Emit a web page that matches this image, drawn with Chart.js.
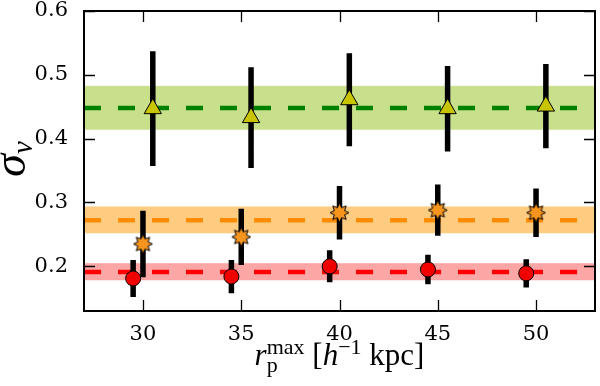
<!DOCTYPE html>
<html lang="en">
<head>
<meta charset="UTF-8">
<title>sigma_v vs r_p max</title>
<style>
  html, body { margin: 0; padding: 0; background: #fff; }
</style>
</head>
<body>
<canvas id="myChart" width="600" height="386"></canvas>

<script src="https://cdn.jsdelivr.net/npm/chart.js"></script>
<script>
// axis ranges and ticks
const xRange = [27, 53];
const yRange = [0.13, 0.6];
const xTicks = [30, 35, 40, 45, 50];
const yTicks = [0.2, 0.3, 0.4, 0.5, 0.6];

// green triangles (top group)
const triX = [30.5, 35.5, 40.5, 45.5, 50.5];
const triY = [0.447, 0.433, 0.461, 0.447, 0.451];
const triErr = [0.090, 0.079, 0.073, 0.067, 0.066];
const triBand = [0.414, 0.448, 0.482]; // low, mean, high

// orange stars (middle group)
const starX = [30, 35, 40, 45, 50];
const starY = [0.235, 0.246, 0.284, 0.288, 0.284];
const starErr = [0.052, 0.044, 0.042, 0.040, 0.038];
const starBand = [0.252, 0.272, 0.293];

// red circles (bottom group)
const circX = [29.5, 34.5, 39.5, 44.5, 49.5];
const circY = [0.181, 0.184, 0.200, 0.195, 0.189];
const circErr = [0.029, 0.026, 0.025, 0.023, 0.022];
const circBand = [0.178, 0.191, 0.204];

const FONT = "Liberation Serif, DejaVu Serif, serif";
const TICK_FONT = "DejaVu Serif, serif";
Chart.defaults.font.family = FONT;

function points(xs, ys) {
    return xs.map((x, i) => ({x: x, y: ys[i]}));
}

// vertical segments separated by gaps
function errSegments(xs, ys, errs) {
    const out = [];
    xs.forEach((x, i) => {
        out.push({x: x, y: ys[i] - errs[i]});
        out.push({x: x, y: ys[i] + errs[i]});
        out.push({x: x, y: null});
    });
    return out;
}

function makeStar(rOut, rIn, n, fill) {
    const c = document.createElement("canvas");
    const s = Math.ceil(rOut * 2 + 4);
    c.width = s; c.height = s;
    const g = c.getContext("2d");
    g.translate(s / 2, s / 2);
    g.beginPath();
    for (let i = 0; i < 2 * n; i++) {
        const r = i % 2 ? rIn : rOut;
        const a = Math.PI * i / n - Math.PI / 2;
        g.lineTo(r * Math.cos(a), r * Math.sin(a));
    }
    g.closePath();
    g.fillStyle = fill;
    g.fill();
    g.lineWidth = 1;
    g.strokeStyle = "#000";
    g.stroke();
    return c;
}

function bandSet(band, color) {
    return {
        data: [{x: xRange[0], y: band[2]}, {x: xRange[1], y: band[2]}],
        showLine: true, pointRadius: 0, borderWidth: 1,
        borderColor: color, backgroundColor: color,
        fill: {value: band[0]}
    };
}

function meanSet(band, color) {
    return {
        data: [{x: xRange[0], y: band[1]}, {x: xRange[1], y: band[1]}],
        showLine: true, pointRadius: 0, borderWidth: 4.5,
        borderColor: color, borderDash: [17, 17], fill: false
    };
}

function errSet(xs, ys, errs) {
    return {
        data: errSegments(xs, ys, errs),
        showLine: true, spanGaps: false, pointRadius: 0, borderWidth: 5.5,
        borderColor: "#000", borderCapStyle: "butt", fill: false
    };
}

// draws rich text pieces; a piece with "stack" puts sub and sup at the same x
function richWidth(ctx, pieces) {
    let w = 0;
    pieces.forEach(p => {
        if (p.stack) {
            w += Math.max(...p.stack.map(s => { ctx.font = s.f; return ctx.measureText(s.t).width; }));
        } else {
            ctx.font = p.f; w += ctx.measureText(p.t).width;
        }
    });
    return w;
}

function richDraw(ctx, pieces, x, y) {
    pieces.forEach(p => {
        if (p.stack) {
            let adv = 0;
            p.stack.forEach(s => {
                ctx.font = s.f;
                ctx.fillText(s.t, x, y + s.dy);
                adv = Math.max(adv, ctx.measureText(s.t).width);
            });
            x += adv;
        } else {
            ctx.font = p.f;
            ctx.fillText(p.t, x, y + (p.dy || 0));
            x += ctx.measureText(p.t).width;
        }
    });
}

const xTitle = [
    {t: "r", f: "italic 31px " + FONT},
    {stack: [{t: "p", f: "22px " + FONT, dy: 7}, {t: "max", f: "22px " + FONT, dy: -11}]},
    {t: " [", f: "31px " + FONT},
    {t: "h", f: "italic 31px " + FONT},
    {t: "\u22121", f: "22px " + FONT, dy: -11},
    {t: " kpc]", f: "31px " + FONT}
];

const yTitle = [
    {t: "\u03c3", f: "italic 46px " + FONT},
    {t: "v", f: "italic 29px " + FONT, dy: 7}
];

const frame = {
    id: "frame",
    afterDatasetsDraw(chart) {
        const {ctx, chartArea: a, scales: {x, y}} = chart;
        ctx.save();
        ctx.strokeStyle = "#000";
        ctx.lineWidth = 1.3;
        ctx.beginPath();
        xTicks.forEach(v => {
            const px = Math.round(x.getPixelForValue(v)) + 0.5;
            ctx.moveTo(px, a.bottom); ctx.lineTo(px, a.bottom - 11);
            ctx.moveTo(px, a.top); ctx.lineTo(px, a.top + 11);
        });
        yTicks.forEach(v => {
            const py = Math.round(y.getPixelForValue(v)) + 0.5;
            ctx.moveTo(a.left, py); ctx.lineTo(a.left + 11, py);
            ctx.moveTo(a.right, py); ctx.lineTo(a.right - 11, py);
        });
        ctx.stroke();
        ctx.lineWidth = 2;
        ctx.strokeRect(a.left, a.top, a.right - a.left, a.bottom - a.top);

        ctx.fillStyle = "#000";
        ctx.textBaseline = "alphabetic";
        ctx.textAlign = "left";
        const w = richWidth(ctx, xTitle);
        richDraw(ctx, xTitle, (a.left + a.right) / 2 - w / 2, 365);

        const wy = richWidth(ctx, yTitle);
        ctx.translate(25, (a.top + a.bottom) / 2 - 2);
        ctx.rotate(-Math.PI / 2);
        richDraw(ctx, yTitle, -wy / 2, 0);
        ctx.restore();
    }
};

const ctx = document.getElementById("myChart");

new Chart(ctx, {
    type: "scatter",
    data: {
        datasets: [
            // markers (first = on top)
            {data: points(circX, circY), pointStyle: "circle", pointRadius: 7.5,
             backgroundColor: "#f20000", borderColor: "#000", borderWidth: 1},
            {data: points(starX, starY), pointStyle: makeStar(9.5, 5.5, 8, "#f7941d"), pointRadius: 9},
            {data: points(triX, triY), pointStyle: "triangle", pointRadius: 10,
             backgroundColor: "#c8c400", borderColor: "#000", borderWidth: 1},
            // error bars
            errSet(circX, circY, circErr),
            errSet(starX, starY, starErr),
            errSet(triX, triY, triErr),
            // dashed means
            meanSet(circBand, "#ff0000"),
            meanSet(starBand, "#ff8c00"),
            meanSet(triBand, "#008000"),
            // shaded bands
            bandSet(circBand, "#fca6a6"),
            bandSet(starBand, "#fecc80"),
            bandSet(triBand, "#c8e08c")
        ]
    },
    options: {
        responsive: false,
        animation: false,
        layout: {autoPadding: false, padding: {top: 11, right: 5, left: 0, bottom: 0}},
        plugins: {legend: {display: false}, tooltip: {enabled: false}},
        scales: {
            x: {
                type: "linear", min: xRange[0], max: xRange[1],
                grid: {display: false}, border: {display: false},
                afterBuildTicks: s => { s.ticks = xTicks.map(v => ({value: v})); },
                afterFit: s => { s.height = 75; s.paddingLeft = 0; s.paddingRight = 0; },
                ticks: {color: "#000", padding: 5, maxRotation: 0,
                        font: {family: TICK_FONT, size: 21, lineHeight: 1}}
            },
            y: {
                type: "linear", min: yRange[0], max: yRange[1],
                grid: {display: false}, border: {display: false},
                afterBuildTicks: s => { s.ticks = yTicks.map(v => ({value: v})); },
                afterFit: s => { s.width = 84; s.paddingTop = 0; s.paddingBottom = 0; },
                ticks: {color: "#000", padding: 8,
                        callback: v => v.toFixed(1),
                        font: {family: TICK_FONT, size: 21, lineHeight: 1}}
            }
        }
    },
    plugins: [frame]
});
</script>
</body>
</html>
